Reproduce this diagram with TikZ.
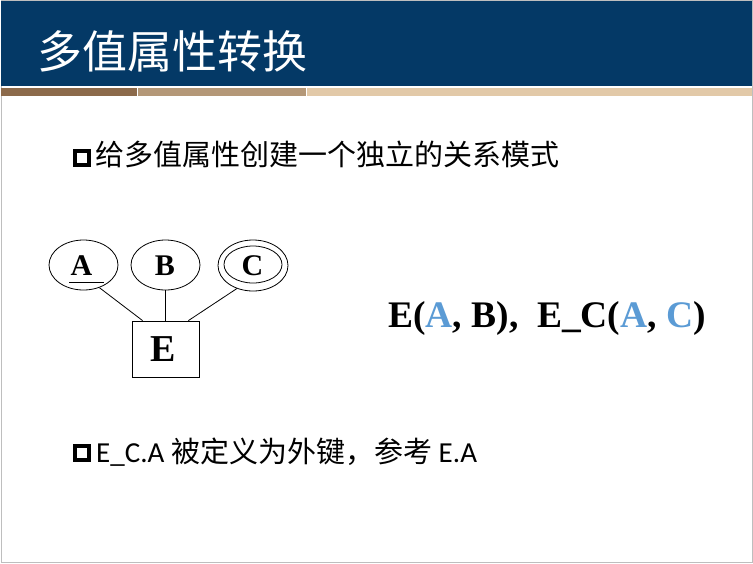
\documentclass[tikz,border=0pt]{standalone}
\usepackage{fontspec}
\newfontfamily\cjk{Noto Sans CJK SC}
\newfontfamily\tnr{Liberation Serif}
\newfontfamily\carlitofont{Carlito}
\definecolor{hdrblue}{RGB}{4,57,102}
\definecolor{stripeA}{RGB}{140,106,75}
\definecolor{stripeB}{RGB}{180,152,120}
\definecolor{stripeC}{RGB}{226,201,168}
\definecolor{keyblue}{RGB}{91,155,213}
\definecolor{frame}{RGB}{190,190,190}
\usetikzlibrary{shapes.geometric}
\tikzset{
  attr/.style={draw, ellipse, line width=0.8pt, minimum width=69pt, minimum height=50pt, inner sep=0pt},
  ent/.style={draw, rectangle, line width=0.8pt, minimum width=67pt, minimum height=56pt, inner sep=0pt},
  conn/.style={line width=0.8pt},
  bulletbox/.style={draw, line width=4pt, minimum width=14pt, minimum height=14pt, inner sep=0pt},
  lbl/.style={font=\tnr\bfseries\fontsize{30}{30}\selectfont, inner sep=0pt, anchor=base},
}
\begin{document}
\begin{tikzpicture}[x=1pt,y=-1pt]
\useasboundingbox (0,0) rectangle (753,563);
\fill[white] (0,0) rectangle (753,563);
\draw[frame, line width=1pt] (1,0.5) rectangle (752,562.5);
% header
\fill[hdrblue] (1,1) rectangle (752,86);
\fill[stripeA] (1,87.5) rectangle (136.5,96);
\fill[stripeB] (138,87.5) rectangle (305.5,96);
\fill[stripeC] (307,87.5) rectangle (752,96);
\node[anchor=base west, inner sep=0pt, text=white, font=\cjk\fontsize{45}{45}\selectfont] (title) at (37,68) {多值属性转换};
% bullet 1
\node[bulletbox] (b1) at (81.5,157.5) {};
\node[anchor=base west, inner sep=0pt, font=\cjk\fontsize{29}{29}\selectfont] (t1) at (95,165) {给多值属性创建一个独立的关系模式};
% bullet 2
\node[bulletbox] (b2) at (81.5,453) {};
\node[anchor=base west, inner sep=0pt, font=\carlitofont\fontsize{29}{29}\selectfont] (t2) at (96,462) {E\_C.A {\cjk 被定义为外键，参考} E.A};
% ER diagram
\node[attr] (A) at (83.5,265) {};
\node[attr] (B) at (165.5,265) {};
\node[attr, minimum width=70pt, minimum height=51pt] (C) at (253,265.5) {};
\node[draw, ellipse, line width=0.8pt, minimum width=58pt, minimum height=37pt, inner sep=0pt] (Ci) at (253,264.5) {};
\node[lbl] (Al) at (81.5,275) {A};
\node[lbl] (Bl) at (165,275) {B};
\node[lbl] (Cl) at (252.5,275) {C};
\draw[conn] (69,282.5) -- (104,282.5);
\node[ent] (E) at (165.5,349) {};
\node[lbl, font=\tnr\bfseries\fontsize{38}{38}\selectfont] (El) at (163.5,361) {E};
\draw[conn] (A.-55) -- ([xshift=11pt]E.north west);
\draw[conn] (B.south) -- (B.south |- E.north);
\draw[conn] (C.-125) -- ([xshift=-11pt]E.north east);
% relation schemas
\node[anchor=base west, inner sep=0pt, font=\tnr\bfseries\fontsize{37.5}{37.5}\selectfont] (R) at (388,327) {E({\color{keyblue}A}, B),\ \ E\_C({\color{keyblue}A}, {\color{keyblue}C})};
\end{tikzpicture}
\end{document}
